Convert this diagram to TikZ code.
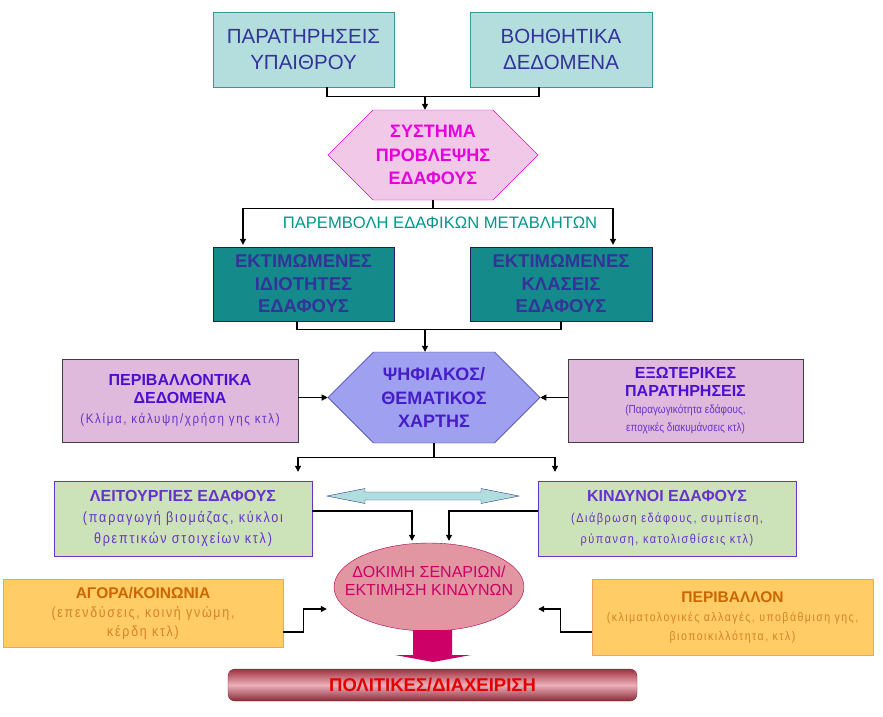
\documentclass[tikz,border=0pt]{standalone}
\usepackage{fontspec}
\setmainfont{Liberation Sans}
\newfontfamily\narrowsf[FakeStretch=0.85]{Liberation Sans}
\newfontfamily\widesf[FakeStretch=0.85,LetterSpace=12]{Liberation Sans}
\usepackage{tikz}
\usetikzlibrary{shapes.geometric,shapes.symbols,arrows.meta,positioning,calc}
\definecolor{obsfill}{RGB}{180,222,222}
\definecolor{obsline}{RGB}{51,153,153}
\definecolor{navytxt}{RGB}{51,51,153}
\definecolor{hexpink}{RGB}{242,200,232}
\definecolor{hexmag}{RGB}{230,0,220}
\definecolor{tealtxt}{RGB}{0,150,140}
\definecolor{tealbox}{RGB}{20,138,138}
\definecolor{mauvefill}{RGB}{224,186,220}
\definecolor{violettxt}{RGB}{75,15,210}
\definecolor{lilactxt}{RGB}{102,51,204}
\definecolor{periwinkle}{RGB}{160,160,240}
\definecolor{hexblue}{RGB}{70,30,200}
\definecolor{greenfill}{RGB}{204,226,184}
\definecolor{purpline}{RGB}{102,51,204}
\definecolor{icefill}{RGB}{176,222,222}
\definecolor{rosefill}{RGB}{226,150,162}
\definecolor{roseline}{RGB}{170,0,70}
\definecolor{crimson}{RGB}{204,0,102}
\definecolor{orangefill}{RGB}{255,204,102}
\definecolor{orangeline}{RGB}{245,160,100}
\definecolor{ambertxt}{RGB}{204,102,0}
\definecolor{amberlight}{RGB}{214,130,40}
\definecolor{bardark}{RGB}{160,48,64}
\definecolor{barlight}{RGB}{236,176,186}
\begin{document}
\begin{tikzpicture}[x=1pt,y=-1pt,
  >={Triangle[length=6pt,width=6pt]},
  conn/.style={line width=1.1pt},
  srcbox/.style={draw=obsline,fill=obsfill,text=navytxt,minimum width=181pt,minimum height=75pt,inner sep=0pt,align=center,font=\fontsize{20.5}{25.5}\selectfont},
  hexbox/.style={signal,signal to=east and west,signal pointer angle=90,inner sep=0pt,align=center,font=\bfseries\fontsize{18}{23.5}\selectfont},
  estbox/.style={draw=navytxt!60!black,fill=tealbox,text=navytxt,minimum width=181pt,minimum height=74pt,inner sep=0pt,align=center,font=\bfseries\fontsize{18.5}{22.5}\selectfont},
  mauvebox/.style={draw=black!75,fill=mauvefill,text=lilactxt,minimum width=235pt,minimum height=83pt,inner sep=0pt,align=center,font=\fontsize{12.5}{17.5}\selectfont},
  greenbox/.style={draw=purpline,fill=greenfill,text=purpline,minimum width=258pt,minimum height=75pt,inner sep=0pt,align=center,font=\fontsize{14}{21}\selectfont},
  orangebox/.style={draw=orangeline,fill=orangefill,text=amberlight,minimum width=280pt,inner sep=0pt,align=center,font=\fontsize{14}{19}\selectfont},
  policybar/.style={rounded corners=7pt,draw=bardark!80!black,top color=bardark,bottom color=bardark!85!black,middle color=barlight,text=red!90!black,minimum width=409pt,minimum height=32pt,inner sep=0pt,font=\bfseries\fontsize{18.5}{20}\selectfont},
]
  \useasboundingbox (0,0) rectangle (883,716);
  \node[srcbox] (field) at (303.5,49.5) {ΠΑΡΑΤΗΡΗΣΕΙΣ\\ΥΠΑΙΘΡΟΥ};
  \node[srcbox,minimum width=182pt] (aux) at (561,49.5) {ΒΟΗΘΗΤΙΚΑ\\ΔΕΔΟΜΕΝΑ};
  \node[hexbox,draw=hexmag,fill=hexpink,text=hexmag,minimum width=210pt,minimum height=90pt] (predict) at (433,155) {ΣΥΣΤΗΜΑ\\ΠΡΟΒΛΕΨΗΣ\\ΕΔΑΦΟΥΣ};
  \node[text=tealtxt,font=\fontsize{16.6}{20}\selectfont] (interp) at (440,223) {ΠΑΡΕΜΒΟΛΗ ΕΔΑΦΙΚΩΝ ΜΕΤΑΒΛΗΤΩΝ};
  \node[estbox] (props) at (303.5,284) {ΕΚΤΙΜΩΜΕΝΕΣ\\ΙΔΙΟΤΗΤΕΣ\\ΕΔΑΦΟΥΣ};
  \node[estbox,minimum width=182pt] (classes) at (561,284) {ΕΚΤΙΜΩΜΕΝΕΣ\\ΚΛΑΣΕΙΣ\\ΕΔΑΦΟΥΣ};
  \node[mauvebox,minimum width=236pt] (envdata) at (180,400.5) {{\bfseries\fontsize{16}{17.5}\selectfont\color{violettxt}ΠΕΡΙΒΑΛΛΟΝΤΙΚΑ}\\{\bfseries\fontsize{16}{17.5}\selectfont\color{violettxt}ΔΕΔΟΜΕΝΑ}\\[3pt]\widesf\fontsize{13.6}{17.5}\selectfont(Κλίμα, κάλυψη/χρήση γης κτλ)};
  \node[hexbox,draw=navytxt,fill=periwinkle,text=hexblue,minimum width=212pt,minimum height=91pt] (map) at (434,397.5) {ΨΗΦΙΑΚΟΣ/\\ΘΕΜΑΤΙΚΟΣ\\ΧΑΡΤΗΣ};
  \node[mauvebox] (extobs) at (685.5,400.5) {{\bfseries\fontsize{16}{17.5}\selectfont\color{violettxt}ΕΞΩΤΕΡΙΚΕΣ}\\{\bfseries\fontsize{16}{17.5}\selectfont\color{violettxt}ΠΑΡΑΤΗΡΗΣΕΙΣ}\\\narrowsf\fontsize{11.7}{17.5}\selectfont(Παραγωγικότητα εδάφους,\\\narrowsf\fontsize{11.7}{16.5}\selectfont εποχικές διακυμάνσεις κτλ)};
  \node[greenbox] (functions) at (183,518.5) {{\bfseries\fontsize{16}{21}\selectfont ΛΕΙΤΟΥΡΓΙΕΣ ΕΔΑΦΟΥΣ}\\\widesf\fontsize{14.8}{21}\selectfont(παραγωγή βιομάζας, κύκλοι\\\widesf\fontsize{14.8}{21}\selectfont θρεπτικών στοιχείων κτλ)};
  \node[greenbox] (hazards) at (667,518.5) {{\bfseries\fontsize{16}{21}\selectfont ΚΙΝΔΥΝΟΙ ΕΔΑΦΟΥΣ}\\\widesf\fontsize{12.8}{21}\selectfont(Διάβρωση εδάφους, συμπίεση,\\\widesf\fontsize{12.8}{21}\selectfont ρύπανση, κατολισθίσεις κτλ)};
  \draw[draw=navytxt,fill=icefill] (327,496) -- (365,488.5) -- (365,492) -- (481,492) -- (481,488.5) -- (519,496) -- (481,503.5) -- (481,500) -- (365,500) -- (365,503.5) -- cycle;
  \node[ellipse,draw=roseline,fill=rosefill,minimum width=190pt,minimum height=88pt,inner sep=0pt] (scen) at (429,587) {};
  \node[text=crimson,align=center,font=\fontsize{16}{18}\selectfont] (scentxt) at (429,581) {ΔΟΚΙΜΗ ΣΕΝΑΡΙΩΝ/\\ΕΚΤΙΜΗΣΗ ΚΙΝΔΥΝΩΝ};
  \node[orangebox,minimum height=68pt] (market) at (143,613) {{\bfseries\fontsize{15.5}{19}\selectfont\color{ambertxt}ΑΓΟΡΑ/ΚΟΙΝΩΝΙΑ}\\\widesf\fontsize{14.6}{19}\selectfont(επενδύσεις, κοινή γνώμη,\\\widesf\fontsize{14.6}{19}\selectfont κέρδη κτλ)};
  \node[orangebox,minimum width=281pt,minimum height=76pt] (nature) at (732.5,617) {{\bfseries\fontsize{15.5}{19}\selectfont\color{ambertxt}ΠΕΡΙΒΑΛΛΟΝ}\\\widesf\fontsize{12.4}{19}\selectfont(κλιματολογικές αλλαγές, υποβάθμιση γης,\\\widesf\fontsize{12.4}{19}\selectfont βιοποικιλλότητα, κτλ)};
  \fill[crimson] ([xshift=-16pt,yshift=1pt]scen.south) -- ([xshift=23pt,yshift=1pt]scen.south) -- (452,655) -- (471,655) -- (433,662) -- (395,655) -- (413,655) -- cycle;
  \node[policybar] (policy) at (432.5,685) {ΠΟΛΙΤΙΚΕΣ/ΔΙΑΧΕΙΡΙΣΗ};
  \draw[conn] ([xshift=23.5pt]field.south) -- ++(0,9) -| ([xshift=-22pt]aux.south);
  \coordinate (j1) at (425,96);
  \draw[conn,->] (j1) -- (j1 |- predict.north);
  \draw[conn] (predict.south) -- ++(0,8) coordinate (j2);
  \draw[conn,->] (j2) -| ([xshift=-60.5pt,yshift=2pt]props.north);
  \draw[conn,->] (j2) -| ([xshift=52pt,yshift=2pt]classes.north);
  \draw[conn] ([xshift=-6.5pt]props.south) -- ++(0,8) -| (classes.south);
  \coordinate (j3) at (425,329);
  \draw[conn,->] (j3) -- (j3 |- map.north);
  \draw[conn,->] (envdata.east |- map.west) -- (map.west);
  \draw[conn,->] (extobs.west |- map.east) -- (map.east);
  \draw[conn] (map.south) -- ++(0,14) coordinate (j4);
  \draw[conn,->] (j4) -| ([xshift=115pt,yshift=9pt]functions.north);
  \draw[conn,->] (j4) -| ([xshift=-112pt,yshift=9pt]hazards.north);
  \draw[conn,->] ([yshift=7.5pt]functions.east) -| ([xshift=-17pt,yshift=2pt]scen.north);
  \draw[conn,->] ([yshift=7.5pt]hazards.west) -| ([xshift=20pt,yshift=2pt]scen.north);
  \draw[conn,->] ([yshift=-19pt]market.east) -- ++(20,0) |- ([xshift=-7pt,yshift=-22pt]scen.west);
  \draw[conn,->] ([yshift=-15pt]nature.west) -- ++(-31,0) |- ([xshift=14pt,yshift=-22pt]scen.east);
\end{tikzpicture}
\end{document}
